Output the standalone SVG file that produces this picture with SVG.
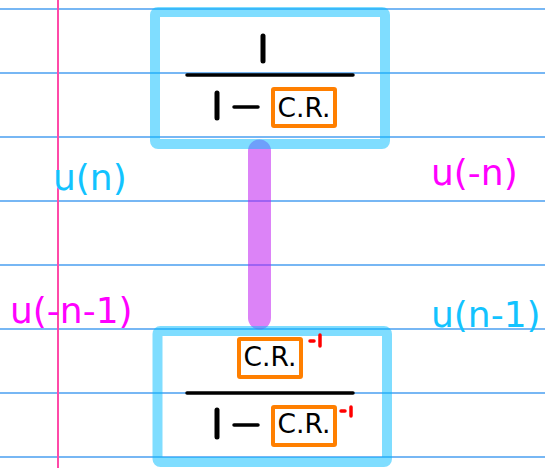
<svg xmlns="http://www.w3.org/2000/svg" width="545" height="468" viewBox="0 0 545 468">
<style>
.rule{stroke:#4a9ff0;stroke-width:1.5}
.margin{stroke:#ff4aa8;stroke-width:2}
.box{fill:none;stroke:#00bcff;stroke-opacity:0.5;stroke-width:10}
.ink{stroke:#000;stroke-linecap:round;fill:none}
.cr{fill:none;stroke:#ff7f00;stroke-width:4}
.crt{font-family:'DejaVu Sans',sans-serif;font-size:26.5px;fill:#000;text-anchor:middle}
.red{stroke:#ff0000;stroke-width:3.5;stroke-linecap:round;fill:none}
.lbl{font-family:'DejaVu Sans',sans-serif;font-size:36px}
.cy{fill:#12c3ff}
.mg{fill:#ff00ff}
</style>
<rect width="545" height="468" fill="#fff"/>
<g id="paper">
<line class="rule" x1="0" y1="9" x2="545" y2="9"/>
<line class="rule" x1="0" y1="73" x2="545" y2="73"/>
<line class="rule" x1="0" y1="137" x2="545" y2="137"/>
<line class="rule" x1="0" y1="201" x2="545" y2="201"/>
<line class="rule" x1="0" y1="265" x2="545" y2="265"/>
<line class="rule" x1="0" y1="329" x2="545" y2="329"/>
<line class="rule" x1="0" y1="393" x2="545" y2="393"/>
<line class="rule" x1="0" y1="457" x2="545" y2="457"/>
<line class="margin" x1="58" y1="0" x2="58" y2="468"/>
</g>
<g id="connectors">
<line x1="259.5" y1="151" x2="259.5" y2="318" stroke="#bf1ef0" stroke-opacity="0.55" stroke-width="23" stroke-linecap="round"/>
</g>
<g id="top-node">
<rect class="box" x="155" y="12" width="230" height="132" rx="3"/>
<line class="ink" x1="263" y1="36" x2="263" y2="61" stroke-width="5"/>
<line class="ink" x1="187" y1="75" x2="353" y2="75" stroke-width="3.5"/>
<line class="ink" x1="217" y1="93" x2="217" y2="118" stroke-width="5"/>
<line class="ink" x1="234" y1="107" x2="258" y2="107" stroke-width="3.5"/>
<rect class="cr" x="273" y="89" width="62" height="37" rx="1"/>
<text class="crt" x="304" y="117">C.R.</text>
</g>
<g id="bottom-node">
<rect class="box" x="157.5" y="331" width="229.5" height="131" rx="3"/>
<rect class="cr" x="239" y="339" width="62" height="38" rx="1"/>
<text class="crt" x="270" y="366">C.R.</text>
<line class="red" x1="310" y1="341" x2="314" y2="341"/>
<line class="red" x1="320" y1="335" x2="320" y2="346"/>
<line class="ink" x1="187" y1="393" x2="353" y2="393" stroke-width="3.5"/>
<line class="ink" x1="217" y1="410" x2="217" y2="437" stroke-width="5"/>
<line class="ink" x1="234" y1="425" x2="258" y2="425" stroke-width="3.5"/>
<rect class="cr" x="273" y="407" width="62" height="38" rx="1"/>
<text class="crt" x="304" y="433">C.R.</text>
<line class="red" x1="341" y1="411" x2="345" y2="411"/>
<line class="red" x1="351" y1="407" x2="351" y2="416"/>
</g>
<g id="labels">
<text class="lbl cy" x="53" y="190">u(n)</text>
<text class="lbl mg" x="10" y="323">u(-n-1)</text>
<text class="lbl mg" x="431" y="185">u(-n)</text>
<text class="lbl cy" x="431" y="327">u(n-1)</text>
</g>
</svg>
